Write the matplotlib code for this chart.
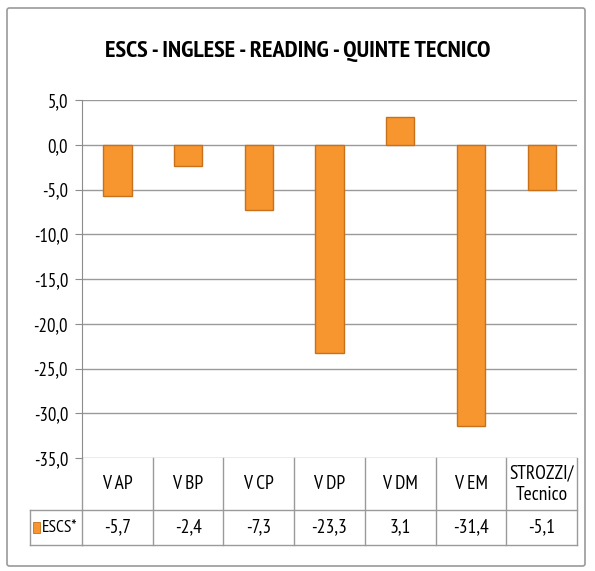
import matplotlib
matplotlib.use("Agg")
import matplotlib.pyplot as plt
import matplotlib.transforms as mtransforms
from matplotlib.patches import FancyBboxPatch, Rectangle
from matplotlib.lines import Line2D

title = "ESCS - INGLESE - READING - QUINTE TECNICO"
categories = ["V AP", "V BP", "V CP", "V DP", "V DM", "V EM", "STROZZI/\nTecnico"]
values = [-5.7, -2.4, -7.3, -23.3, 3.1, -31.4, -5.1]
value_labels = ["-5,7", "-2,4", "-7,3", "-23,3", "3,1", "-31,4", "-5,1"]
series_name = "ESCS*"
yticks = [5, 0, -5, -10, -15, -20, -25, -30, -35]

FONT = ["PT Sans Narrow", "DejaVu Sans"]
plt.rcParams["font.family"] = FONT

W, H = 595, 571
fig = plt.figure(figsize=(W / 100, H / 100), dpi=100)

frame = FancyBboxPatch((7 / W, 1 - 566 / H), 578 / W, 558 / H,
                       boxstyle="round,pad=0,rounding_size=0.004",
                       transform=fig.transFigure, fill=False,
                       edgecolor="#9a9a9a", linewidth=1.2)
fig.patches.append(frame)

ax_left, ax_right, ax_top, ax_bot = 82, 577, 100, 458
ax = fig.add_axes([ax_left / W, 1 - ax_bot / H, (ax_right - ax_left) / W, (ax_bot - ax_top) / H])

n = len(categories)
x = list(range(n))
ax.set_xlim(-0.5, n - 0.5)
ax.set_ylim(-35, 5)

ax.set_yticks(yticks)
ax.set_yticklabels([f"{t:.1f}".replace(".", ",") for t in yticks], fontsize=13.5)
ax.tick_params(axis="y", length=5, color="#8c8c8c", pad=5)
ax.set_xticks([])
for s in ["top", "right", "bottom"]:
    ax.spines[s].set_visible(False)
ax.spines["left"].set_color("#8c8c8c")
ax.yaxis.grid(True, color="#9a9a9a", linewidth=1.0)
ax.set_axisbelow(True)

ax.bar(x, values, width=0.4, color="#F7962F", edgecolor="#C8701A", linewidth=1.0, zorder=3)

fig.text(0.5, 1 - 51 / H, title, ha="center", va="center", fontsize=17.5, fontweight="bold")

trans = mtransforms.blended_transform_factory(ax.transData, ax.transAxes)
h_px = ax_bot - ax_top
row1_bot = -(510 - ax_bot) / h_px
row2_bot = -(545 - ax_bot) / h_px
lc = "#9a9a9a"

def hline(x0, x1, y, t):
    ax.add_line(Line2D([x0, x1], [y, y], transform=t, color=lc, lw=1.0, clip_on=False))

def vline(xv, y0, y1, t):
    ax.add_line(Line2D([xv, xv], [y0, y1], transform=t, color=lc, lw=1.0, clip_on=False))

hline(-0.5, n - 0.5, row1_bot, trans)
hline(-0.5, n - 0.5, row2_bot, trans)
tleft = mtransforms.blended_transform_factory(fig.transFigure, ax.transAxes)
hline(30 / W, ax_left / W, row1_bot, tleft)
hline(30 / W, ax_left / W, row2_bot, tleft)
vline(30 / W, row1_bot, row2_bot, tleft)
for b in range(n + 1):
    vline(b - 0.5, 0, row2_bot, trans)

for i in range(n):
    ax.text(x[i], (0 + row1_bot) / 2, categories[i], transform=trans, ha="center", va="center",
            fontsize=14, linespacing=1.3)
    ax.text(x[i], (row1_bot + row2_bot) / 2, value_labels[i], transform=trans, ha="center",
            va="center", fontsize=14)

ymid = (row1_bot + row2_bot) / 2
ax.add_patch(Rectangle((33 / W, ymid - 0.016), 7 / W, 0.032, transform=tleft,
                       facecolor="#F7962F", edgecolor="#C8701A", lw=0.6, clip_on=False))
ax.text(42 / W, ymid, series_name, transform=tleft, ha="left", va="center", fontsize=12.5)

fig.savefig("out.png", dpi=100)
